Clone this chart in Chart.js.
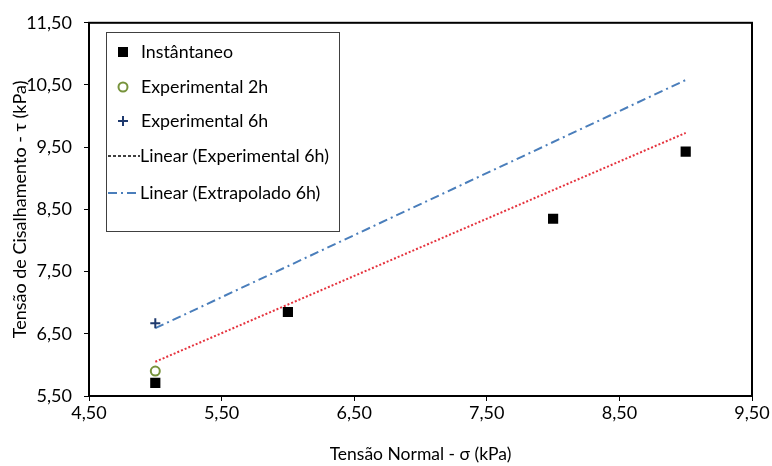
<!DOCTYPE html>
<html>
<head>
<meta charset="utf-8">
<script src="https://cdn.jsdelivr.net/npm/chart.js@4.4.1/dist/chart.umd.min.js"></script>
<style>
  html, body { margin: 0; padding: 0; background: #fff; }
  #wrap { width: 772px; height: 466px; position: relative; }
</style>
</head>
<body>
<div id="wrap"><canvas id="c" width="772" height="466"></canvas></div>
<script>
// ---- data ----
const instX = [5, 6, 8, 9];
const instY = [5.71, 6.85, 8.35, 9.43];
const exp2hX = [5];
const exp2hY = [5.90];
const exp6hX = [5];
const exp6hY = [6.67];
const trendInstX = [5, 9];
const trendInstY = [6.05, 9.73];
const extrapX = [5, 9];
const extrapY = [6.59, 10.58];
const xTickValues = [4.5, 5.5, 6.5, 7.5, 8.5, 9.5];
const yTickValues = [5.5, 6.5, 7.5, 8.5, 9.5, 10.5, 11.5];
const xTitle = 'Tensão Normal - σ (kPa)';
const yTitle = 'Tensão de Cisalhamento - τ (kPa)';
const labels = ['Instântaneo', 'Experimental 2h', 'Experimental 6h', 'Linear (Experimental 6h)', 'Linear (Extrapolado 6h)', 'Linear (Instântaneo)'];

const pts = (xs, ys) => xs.map((x, i) => ({x: x, y: ys[i]}));
const FONT = 'Lato, "Open Sans", sans-serif';
const fmt = v => Number(v).toFixed(2).replace('.', ',');

const datasets = [
  { label: labels[0], data: pts(instX, instY), showLine: false, pointStyle: 'rect', pointRadius: 7.2,
    backgroundColor: '#000', borderColor: '#000', borderWidth: 0, legend: true },
  { label: labels[1], data: pts(exp2hX, exp2hY), showLine: false, pointStyle: 'circle', pointRadius: 4.5,
    backgroundColor: '#fff', borderColor: '#77933C', pointBorderWidth: 2, legend: true },
  { label: labels[2], data: pts(exp6hX, exp6hY), showLine: false, pointStyle: 'cross', pointRadius: 5,
    backgroundColor: '#1F3A6E', borderColor: '#1F3A6E', pointBorderWidth: 2, legend: true },
  { label: labels[3], data: [], showLine: true, pointRadius: 0, borderColor: '#000', borderWidth: 1.3,
    borderDash: [3, 2], legend: true, isLine: true },
  { label: labels[4], data: pts(extrapX, extrapY), showLine: true, pointRadius: 0, borderColor: '#4A7EBB',
    borderWidth: 2, borderDash: [9, 4, 2, 4], legend: true, isLine: true },
  { label: labels[5], data: pts(trendInstX, trendInstY), showLine: true, pointRadius: 0, borderColor: '#E5323D',
    borderWidth: 2, borderDash: [2, 2], legend: false, isLine: true }
];

const frame = {
  id: 'frame',
  afterDatasetsDraw(chart) {
    const a = chart.chartArea, ctx = chart.ctx;
    ctx.save();
    ctx.strokeStyle = '#000';
    ctx.lineWidth = 2;
    ctx.strokeRect(a.left, a.top, a.right - a.left, a.bottom - a.top);
    ctx.restore();
  }
};

const boxLegend = {
  id: 'boxLegend',
  afterDraw(chart) {
    const ctx = chart.ctx;
    const L = 106, T = 32, R = 339, B = 231;
    ctx.save();
    ctx.fillStyle = '#fff';
    ctx.fillRect(L, T, R - L, B - T);
    ctx.strokeStyle = '#404040';
    ctx.lineWidth = 1;
    ctx.strokeRect(L + 0.5, T + 0.5, R - L, B - T);
    const rows = [52, 87, 121, 156, 193];
    const items = chart.data.datasets.filter(d => d.legend);
    ctx.font = '17.8px ' + FONT;
    ctx.textBaseline = 'middle';
    ctx.fillStyle = '#000';
    items.forEach((d, i) => {
      const y = rows[i];
      if (d.isLine) {
        ctx.save();
        ctx.strokeStyle = d.borderColor;
        ctx.lineWidth = d.borderWidth;
        ctx.setLineDash(d.borderDash);
        ctx.beginPath();
        ctx.moveTo(108, y); ctx.lineTo(140, y);
        ctx.stroke();
        ctx.restore();
        ctx.fillStyle = '#000';
        ctx.fillText(d.label, 140, y);
      } else {
        const x = 123;
        ctx.save();
        if (d.pointStyle === 'rect') {
          ctx.fillStyle = d.backgroundColor;
          ctx.fillRect(x - 5, y - 5, 10, 10);
        } else if (d.pointStyle === 'circle') {
          ctx.strokeStyle = d.borderColor; ctx.lineWidth = 2;
          ctx.beginPath(); ctx.arc(x, y, 4.5, 0, Math.PI * 2); ctx.stroke();
        } else {
          ctx.strokeStyle = d.borderColor; ctx.lineWidth = 2;
          ctx.beginPath(); ctx.moveTo(x - 5, y); ctx.lineTo(x + 5, y);
          ctx.moveTo(x, y - 5); ctx.lineTo(x, y + 5); ctx.stroke();
        }
        ctx.restore();
        ctx.fillStyle = '#000';
        ctx.fillText(d.label, 141, y);
      }
    });
    ctx.restore();
  }
};

new Chart(document.getElementById('c'), {
  type: 'scatter',
  data: { datasets: datasets },
  options: {
    responsive: false,
    animation: false,
    devicePixelRatio: 1,
    layout: { padding: { left: 0, top: 22, right: 20, bottom: 0 } },
    plugins: { legend: { display: false }, tooltip: { enabled: false } },
    scales: {
      x: {
        type: 'linear', min: 4.5, max: 9.5,
        afterBuildTicks: s => { s.ticks = xTickValues.map(v => ({value: v})); },
        afterFit: s => { s.height = 70; },
        ticks: { callback: fmt, color: '#000', font: { size: 18, family: FONT }, padding: 1, maxRotation: 0 },
        grid: { drawOnChartArea: false, drawTicks: true, tickLength: 5, color: '#000', lineWidth: 1 },
        border: { display: true, color: '#000', width: 2 },
        title: { display: true, text: xTitle, color: '#000', font: { size: 17.5, family: FONT }, padding: { top: 0, bottom: 1 } }
      },
      y: {
        type: 'linear', min: 5.5, max: 11.5,
        afterBuildTicks: s => { s.ticks = yTickValues.map(v => ({value: v})); },
        afterFit: s => { s.width = 89; },
        ticks: { callback: fmt, color: '#000', font: { size: 18, family: FONT }, padding: 12 },
        grid: { drawOnChartArea: false, drawTicks: true, tickLength: 5, color: '#000', lineWidth: 1 },
        border: { display: true, color: '#000', width: 2 },
        title: { display: true, text: yTitle, color: '#000', font: { size: 18, family: FONT }, padding: { top: 9, bottom: 0 } }
      }
    }
  },
  plugins: [frame, boxLegend]
});
</script>
</body>
</html>
